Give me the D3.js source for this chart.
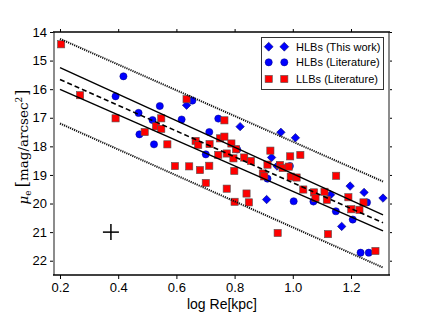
<!DOCTYPE html>
<html><head><meta charset="utf-8">
<script src="https://cdn.jsdelivr.net/npm/d3@7"></script>
<style>html,body{margin:0;padding:0;background:#fff;}svg{display:block;}</style>
</head><body>
<svg id="chart" width="432" height="324"></svg>
<script>
// ---- data ----
const hlbWorkX = [0.635,0.819,0.959,1.009,0.927,0.946,0.910,1.130,1.197,1.245,1.310,1.168];
const hlbWorkY = [16.56,17.31,17.51,17.70,18.39,18.69,19.86,19.69,19.39,19.61,19.81,20.80];

const hlbLitX = [0.418,0.391,0.543,0.470,0.518,0.473,0.523,0.655,0.618,0.744,0.713,0.701,0.809,0.913,0.990,1.003,1.071,1.148,1.255,1.206,1.233,1.261];
const hlbLitY = [15.55,16.25,16.59,16.83,17.08,17.58,17.93,16.40,17.06,17.03,17.50,18.28,18.11,19.13,18.69,19.92,19.93,20.27,19.96,20.56,21.72,21.72];

const llbX = [0.204,0.269,0.391,0.548,0.530,0.548,0.491,0.569,0.635,0.765,0.666,0.675,0.714,0.750,0.765,0.789,0.805,0.744,0.773,0.796,
  0.595,0.644,0.681,0.713,0.799,0.833,0.856,0.923,0.991,1.026,0.913,0.956,0.965,0.986,0.897,0.902,0.993,1.013,1.149,0.701,
  0.773,0.841,0.800,0.849,1.036,1.073,1.078,1.109,1.117,1.191,1.243,1.201,1.229,0.948,1.121,1.284];
const llbY = [14.43,16.21,17.02,17.02,17.30,17.39,17.50,17.93,16.35,17.09,17.81,17.95,17.92,17.72,17.66,17.90,18.10,18.30,18.25,18.42,
  18.69,18.70,18.83,18.68,18.86,18.39,18.51,18.15,18.35,18.30,18.64,18.65,18.76,18.71,18.95,19.05,19.06,19.09,19.03,19.28,
  19.48,19.65,19.94,19.96,19.51,19.61,19.81,19.59,19.87,19.78,19.96,20.20,20.22,21.03,21.07,21.66];

const fitX = [0.20, 1.31];
const fitCenter = [15.66, 20.67];
const fitUpper = [15.25, 20.40];
const fitLower = [16.01, 20.96];
const scatterUpper = [14.24, 19.23];
const scatterLower = [17.20, 22.24];

const errX = 0.375, errY = 21.0, errDX = 0.0275, errDY = 0.28;

const xTicks = [0.2,0.4,0.6,0.8,1.0,1.2];
const xTickLabels = ["0.2","0.4","0.6","0.8","1.0","1.2"];
const yTicks = [14,15,16,17,18,19,20,21,22];
const legendLabels = ["HLBs (This work)","HLBs (Literature)","LLBs (Literature)"];

// ---- layout ----
const L = 54, R = 389, T = 32, B = 275;
const svg = d3.select("#chart");
const x = d3.scaleLinear().domain([0.1794, 1.3306]).range([L, R]);
const y = d3.scaleLinear().domain([14, 22.5]).range([T, B]);
const font = "'Liberation Sans', Arial, Helvetica, sans-serif";

// axes
const ax = svg.append("g").attr("font-family", font);
const bottomAxis = d3.axisBottom(x).tickValues(xTicks).tickFormat((d,i)=>xTickLabels[i]).tickSize(4).tickPadding(4);
const topAxis = d3.axisTop(x).tickValues(xTicks).tickFormat("").tickSize(3);
const leftAxis = d3.axisLeft(y).tickValues(yTicks).tickFormat(d3.format("d")).tickSize(4).tickPadding(3);
const rightAxis = d3.axisRight(y).tickValues(yTicks).tickFormat("").tickSize(3);

function styleAxis(g){
  g.select(".domain").remove();
  g.selectAll(".tick line").attr("stroke","#000").attr("stroke-width",1);
  g.selectAll(".tick text").attr("font-size",13).attr("font-family",font).attr("fill","#000");
}
ax.append("g").attr("transform",`translate(0,${B})`).call(bottomAxis).call(styleAxis);
ax.append("g").attr("transform",`translate(0,${T})`).call(topAxis).call(styleAxis);
ax.append("g").attr("transform",`translate(${L},0)`).call(leftAxis).call(styleAxis);
ax.append("g").attr("transform",`translate(${R},0)`).call(rightAxis).call(styleAxis);

// spines
svg.append("line").attr("x1",L).attr("x2",L).attr("y1",T).attr("y2",B).attr("stroke","#8c8c8c").attr("stroke-width",2);
svg.append("line").attr("x1",R).attr("x2",R).attr("y1",T).attr("y2",B).attr("stroke","#8c8c8c").attr("stroke-width",2);
svg.append("line").attr("x1",L-1).attr("x2",R+1).attr("y1",T).attr("y2",T).attr("stroke","#000").attr("stroke-width",1.3);
svg.append("line").attr("x1",L-1).attr("x2",R+1).attr("y1",B).attr("y2",B).attr("stroke","#000").attr("stroke-width",1.3);

// markers
const plot = svg.append("g");
plot.selectAll("path.dia").data(hlbWorkX.map((v,i)=>[v,hlbWorkY[i]])).join("path")
  .attr("class","dia")
  .attr("d", d3.symbol().type(d3.symbolSquare).size(36))
  .attr("transform", d=>`translate(${x(d[0])},${y(d[1])}) rotate(45)`)
  .attr("fill","#0000ff").attr("stroke","#000060").attr("stroke-width",0.5);
plot.selectAll("circle.lit").data(hlbLitX.map((v,i)=>[v,hlbLitY[i]])).join("circle")
  .attr("class","lit").attr("cx",d=>x(d[0])).attr("cy",d=>y(d[1])).attr("r",3.6)
  .attr("fill","#0000ff").attr("stroke","#000080").attr("stroke-width",0.5);
plot.selectAll("rect.llb").data(llbX.map((v,i)=>[v,llbY[i]])).join("rect")
  .attr("class","llb").attr("x",d=>x(d[0])-3.6).attr("y",d=>y(d[1])-3.6).attr("width",7.2).attr("height",7.2)
  .attr("fill","#ff0000").attr("stroke","#555").attr("stroke-width",0.6);

// fit lines
const line = d3.line().x(d=>x(d[0])).y(d=>y(d[1]));
function drawLine(vals, dash, w, color){
  svg.append("path").datum(fitX.map((v,i)=>[v,vals[i]])).attr("d",line)
    .attr("fill","none").attr("stroke",color||"#000").attr("stroke-width",w)
    .attr("stroke-dasharray",dash);
}
drawLine(fitUpper, null, 1.4);
drawLine(fitLower, null, 1.4);
drawLine(fitCenter, "5,3", 1.6);
drawLine(scatterUpper, "1.2,1", 2, "#111");
drawLine(scatterLower, "1.2,1", 2, "#111");

// error cross
svg.append("line").attr("x1",x(errX-errDX)).attr("x2",x(errX+errDX)).attr("y1",y(errY)).attr("y2",y(errY)).attr("stroke","#000").attr("stroke-width",1.5);
svg.append("line").attr("x1",x(errX)).attr("x2",x(errX)).attr("y1",y(errY-errDY)).attr("y2",y(errY+errDY)).attr("stroke","#000").attr("stroke-width",1.5);

// legend
const lg = svg.append("g");
lg.append("rect").attr("x",261.5).attr("y",37.5).attr("width",122).attr("height",52)
  .attr("fill","#fff").attr("stroke","#333").attr("stroke-width",1);
const rowsY = [46.7, 62.3, 79];
const mx = [268.7, 284.3];
mx.forEach(px=>{
  lg.append("path").attr("d", d3.symbol().type(d3.symbolSquare).size(40)).attr("transform",`translate(${px},${rowsY[0]}) rotate(45)`)
    .attr("fill","#0000ff").attr("stroke","#000060").attr("stroke-width",0.5);
  lg.append("circle").attr("cx",px).attr("cy",rowsY[1]).attr("r",3.6).attr("fill","#0000ff").attr("stroke","#000080").attr("stroke-width",0.5);
  lg.append("rect").attr("x",px-3.6).attr("y",rowsY[2]-3.6).attr("width",7.2).attr("height",7.2).attr("fill","#ff0000").attr("stroke","#555").attr("stroke-width",0.6);
});
legendLabels.forEach((t,i)=>{
  lg.append("text").attr("x",296).attr("y",rowsY[i]).attr("dy","0.36em").attr("font-family",font).attr("font-size",11).attr("fill","#000").text(t);
});

// axis labels
svg.append("text").attr("x",222).attr("y",309).attr("text-anchor","middle").attr("font-family",font).attr("font-size",14).attr("fill","#000").text("log Re[kpc]");

const yl = svg.append("text").attr("transform","translate(28,147) rotate(-90)").attr("text-anchor","middle")
  .attr("font-family","'DejaVu Serif','Liberation Serif',serif").attr("font-size",13.5).attr("fill","#000");
yl.append("tspan").attr("font-style","italic").text("μ");
yl.append("tspan").attr("font-size",9).attr("dy",3).text("e");
yl.append("tspan").attr("dy",-3).attr("dx",3).attr("font-size",16).text("[");
yl.append("tspan").text("mag/arcsec");
yl.append("tspan").attr("font-size",9).attr("dy",-6).text("2");
yl.append("tspan").attr("font-size",16).attr("dy",6).attr("dx",1).text("]");
</script>
</body></html>
